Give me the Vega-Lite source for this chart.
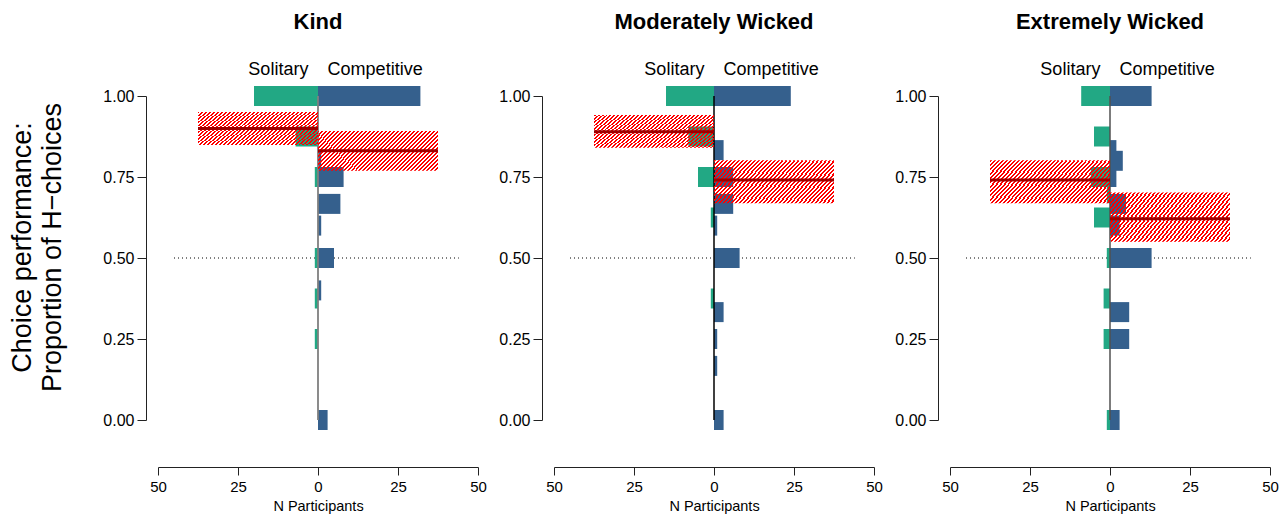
{
  "$schema": "https://vega.github.io/schema/vega-lite/v6.json",
  "autosize": {"type": "none"},
  "padding": {"left": 158, "top": 96, "right": 1123, "bottom": 420},
  "background": "white",
  "spacing": 76,
  "bounds": "flush",
  "datasets": {
    "bars": [
      {"panel": "Kind", "group": "Solitary", "p": 1, "n": -20},
      {"panel": "Kind", "group": "Solitary", "p": 0.875, "n": -7},
      {"panel": "Kind", "group": "Solitary", "p": 0.75, "n": -1},
      {"panel": "Kind", "group": "Solitary", "p": 0.5, "n": -1},
      {"panel": "Kind", "group": "Solitary", "p": 0.375, "n": -1},
      {"panel": "Kind", "group": "Solitary", "p": 0.25, "n": -1},
      {"panel": "Kind", "group": "Competitive", "p": 1, "n": 32},
      {"panel": "Kind", "group": "Competitive", "p": 0.8, "n": 1},
      {"panel": "Kind", "group": "Competitive", "p": 0.75, "n": 8},
      {"panel": "Kind", "group": "Competitive", "p": 0.667, "n": 7},
      {"panel": "Kind", "group": "Competitive", "p": 0.6, "n": 1},
      {"panel": "Kind", "group": "Competitive", "p": 0.5, "n": 5},
      {"panel": "Kind", "group": "Competitive", "p": 0.4, "n": 1},
      {"panel": "Kind", "group": "Competitive", "p": 0, "n": 3},
      {"panel": "Moderately Wicked", "group": "Solitary", "p": 1, "n": -15},
      {"panel": "Moderately Wicked", "group": "Solitary", "p": 0.875, "n": -8},
      {"panel": "Moderately Wicked", "group": "Solitary", "p": 0.75, "n": -5},
      {"panel": "Moderately Wicked", "group": "Solitary", "p": 0.625, "n": -1},
      {"panel": "Moderately Wicked", "group": "Solitary", "p": 0.375, "n": -1},
      {"panel": "Moderately Wicked", "group": "Competitive", "p": 1, "n": 24},
      {"panel": "Moderately Wicked", "group": "Competitive", "p": 0.833, "n": 3},
      {"panel": "Moderately Wicked", "group": "Competitive", "p": 0.75, "n": 6},
      {"panel": "Moderately Wicked", "group": "Competitive", "p": 0.667, "n": 6},
      {"panel": "Moderately Wicked", "group": "Competitive", "p": 0.6, "n": 1},
      {"panel": "Moderately Wicked", "group": "Competitive", "p": 0.5, "n": 8},
      {"panel": "Moderately Wicked", "group": "Competitive", "p": 0.333, "n": 3},
      {"panel": "Moderately Wicked", "group": "Competitive", "p": 0.25, "n": 1},
      {"panel": "Moderately Wicked", "group": "Competitive", "p": 0.167, "n": 1},
      {"panel": "Moderately Wicked", "group": "Competitive", "p": 0, "n": 3},
      {"panel": "Extremely Wicked", "group": "Solitary", "p": 0.7, "n": -1},
      {"panel": "Extremely Wicked", "group": "Solitary", "p": 1, "n": -9},
      {"panel": "Extremely Wicked", "group": "Solitary", "p": 0.875, "n": -5},
      {"panel": "Extremely Wicked", "group": "Solitary", "p": 0.75, "n": -6},
      {"panel": "Extremely Wicked", "group": "Solitary", "p": 0.625, "n": -5},
      {"panel": "Extremely Wicked", "group": "Solitary", "p": 0.5, "n": -1},
      {"panel": "Extremely Wicked", "group": "Solitary", "p": 0.375, "n": -2},
      {"panel": "Extremely Wicked", "group": "Solitary", "p": 0.25, "n": -2},
      {"panel": "Extremely Wicked", "group": "Solitary", "p": 0, "n": -1},
      {"panel": "Extremely Wicked", "group": "Competitive", "p": 1, "n": 13},
      {"panel": "Extremely Wicked", "group": "Competitive", "p": 0.833, "n": 2},
      {"panel": "Extremely Wicked", "group": "Competitive", "p": 0.8, "n": 4},
      {"panel": "Extremely Wicked", "group": "Competitive", "p": 0.75, "n": 2},
      {"panel": "Extremely Wicked", "group": "Competitive", "p": 0.667, "n": 5},
      {"panel": "Extremely Wicked", "group": "Competitive", "p": 0.6, "n": 3},
      {"panel": "Extremely Wicked", "group": "Competitive", "p": 0.5, "n": 13},
      {"panel": "Extremely Wicked", "group": "Competitive", "p": 0.333, "n": 6},
      {"panel": "Extremely Wicked", "group": "Competitive", "p": 0.25, "n": 6},
      {"panel": "Extremely Wicked", "group": "Competitive", "p": 0, "n": 3}
    ],
    "ci": [
      {"panel": "Kind", "group": "Solitary", "x0": 0, "x1": -37.5, "lo": 0.849, "hi": 0.951, "mean": 0.9},
      {"panel": "Kind", "group": "Competitive", "x0": 0, "x1": 37.5, "lo": 0.769, "hi": 0.892, "mean": 0.831},
      {"panel": "Moderately Wicked", "group": "Solitary", "x0": 0, "x1": -37.5, "lo": 0.84, "hi": 0.941, "mean": 0.89},
      {"panel": "Moderately Wicked", "group": "Competitive", "x0": 0, "x1": 37.5, "lo": 0.669, "hi": 0.802, "mean": 0.741},
      {"panel": "Extremely Wicked", "group": "Solitary", "x0": 0, "x1": -37.5, "lo": 0.669, "hi": 0.802, "mean": 0.741},
      {"panel": "Extremely Wicked", "group": "Competitive", "x0": 0, "x1": 37.5, "lo": 0.55, "hi": 0.702, "mean": 0.621}
    ]
  },
  "hconcat": [
    {
      "title": "Kind",
      "width": 320,
      "height": 324,
      "layer": [
        {"data": {"values": [{}]}, "mark": {"type": "rule", "strokeDash": [1, 3], "color": "#000", "strokeWidth": 1},
         "encoding": {"x": {"datum": -45, "type": "quantitative", "scale": {"domain": [-50, 50], "padding": 0}}, "x2": {"datum": 44},
                      "y": {"datum": 0.5, "type": "quantitative", "scale": {"domain": [0, 1], "padding": 0}}}},
        {"data": {"name": "bars"}, "transform": [{"filter": "datum.panel === 'Kind'"}],
         "mark": {"type": "bar", "orient": "horizontal", "height": 20},
         "encoding": {
           "x": {"field": "n", "type": "quantitative", "stack": null, "scale": {"domain": [-50, 50], "padding": 0}, "axis": {"values": [-50, -25, 0, 25, 50], "labelExpr": "format(abs(datum.value), 'd')", "title": "N Participants"}},
           "y": {"field": "p", "type": "quantitative", "scale": {"domain": [0, 1], "padding": 0}, "axis": {"values": [0, 0.25, 0.5, 0.75, 1], "format": ".2f", "title": ["Choice performance:", "Proportion of H−choices"], "titleY": 151}},
           "color": {"field": "group", "type": "nominal", "scale": {"domain": ["Solitary", "Competitive"], "range": ["#22A884", "#35608D"]}, "legend": null}
         }},
        {"data": {"values": [{}]}, "mark": {"type": "rule", "color": "#7f7f7f", "strokeWidth": 1.8},
         "encoding": {"x": {"datum": 0, "type": "quantitative", "scale": {"domain": [-50, 50], "padding": 0}},
                      "y": {"datum": 0, "type": "quantitative", "scale": {"domain": [0, 1], "padding": 0}}, "y2": {"datum": 1}}},
        {"data": {"name": "ci"}, "transform": [{"filter": "datum.panel === 'Kind'"}],
         "mark": {"type": "rect"},
         "encoding": {"x": {"field": "x0", "type": "quantitative", "scale": {"domain": [-50, 50], "padding": 0}}, "x2": {"field": "x1"},
                      "y": {"field": "lo", "type": "quantitative", "scale": {"domain": [0, 1], "padding": 0}}, "y2": {"field": "hi"}}},
        {"data": {"name": "ci"}, "transform": [{"filter": "datum.panel === 'Kind'"}],
         "mark": {"type": "rule", "color": "#9e0000", "strokeWidth": 3},
         "encoding": {"x": {"field": "x0", "type": "quantitative", "scale": {"domain": [-50, 50], "padding": 0}}, "x2": {"field": "x1"},
                      "y": {"field": "mean", "type": "quantitative", "scale": {"domain": [0, 1], "padding": 0}}}},
        {"data": {"values": [{}]}, "mark": {"type": "text", "text": "Solitary", "align": "right", "baseline": "alphabetic", "fontSize": 18},
         "encoding": {"x": {"datum": -3, "type": "quantitative", "scale": {"domain": [-50, 50], "padding": 0}},
                      "y": {"datum": 1.065, "type": "quantitative", "scale": {"domain": [0, 1], "padding": 0}}}},
        {"data": {"values": [{}]}, "mark": {"type": "text", "text": "Competitive", "align": "left", "baseline": "alphabetic", "fontSize": 18},
         "encoding": {"x": {"datum": 3, "type": "quantitative", "scale": {"domain": [-50, 50], "padding": 0}},
                      "y": {"datum": 1.065, "type": "quantitative", "scale": {"domain": [0, 1], "padding": 0}}}}
      ]
    },
    {
      "title": "Moderately Wicked",
      "width": 320,
      "height": 324,
      "layer": [
        {"data": {"values": [{}]}, "mark": {"type": "rule", "strokeDash": [1, 3], "color": "#000", "strokeWidth": 1},
         "encoding": {"x": {"datum": -45, "type": "quantitative", "scale": {"domain": [-50, 50], "padding": 0}}, "x2": {"datum": 44},
                      "y": {"datum": 0.5, "type": "quantitative", "scale": {"domain": [0, 1], "padding": 0}}}},
        {"data": {"name": "bars"}, "transform": [{"filter": "datum.panel === 'Moderately Wicked'"}],
         "mark": {"type": "bar", "orient": "horizontal", "height": 20},
         "encoding": {
           "x": {"field": "n", "type": "quantitative", "stack": null, "scale": {"domain": [-50, 50], "padding": 0}, "axis": {"values": [-50, -25, 0, 25, 50], "labelExpr": "format(abs(datum.value), 'd')", "title": "N Participants"}},
           "y": {"field": "p", "type": "quantitative", "scale": {"domain": [0, 1], "padding": 0}, "axis": {"values": [0, 0.25, 0.5, 0.75, 1], "format": ".2f", "title": null}},
           "color": {"field": "group", "type": "nominal", "scale": {"domain": ["Solitary", "Competitive"], "range": ["#22A884", "#35608D"]}, "legend": null}
         }},
        {"data": {"values": [{}]}, "mark": {"type": "rule", "color": "#000000", "strokeWidth": 1.5},
         "encoding": {"x": {"datum": 0, "type": "quantitative", "scale": {"domain": [-50, 50], "padding": 0}},
                      "y": {"datum": 0, "type": "quantitative", "scale": {"domain": [0, 1], "padding": 0}}, "y2": {"datum": 1}}},
        {"data": {"name": "ci"}, "transform": [{"filter": "datum.panel === 'Moderately Wicked'"}],
         "mark": {"type": "rect"},
         "encoding": {"x": {"field": "x0", "type": "quantitative", "scale": {"domain": [-50, 50], "padding": 0}}, "x2": {"field": "x1"},
                      "y": {"field": "lo", "type": "quantitative", "scale": {"domain": [0, 1], "padding": 0}}, "y2": {"field": "hi"}}},
        {"data": {"name": "ci"}, "transform": [{"filter": "datum.panel === 'Moderately Wicked'"}],
         "mark": {"type": "rule", "color": "#9e0000", "strokeWidth": 3},
         "encoding": {"x": {"field": "x0", "type": "quantitative", "scale": {"domain": [-50, 50], "padding": 0}}, "x2": {"field": "x1"},
                      "y": {"field": "mean", "type": "quantitative", "scale": {"domain": [0, 1], "padding": 0}}}},
        {"data": {"values": [{}]}, "mark": {"type": "text", "text": "Solitary", "align": "right", "baseline": "alphabetic", "fontSize": 18},
         "encoding": {"x": {"datum": -3, "type": "quantitative", "scale": {"domain": [-50, 50], "padding": 0}},
                      "y": {"datum": 1.065, "type": "quantitative", "scale": {"domain": [0, 1], "padding": 0}}}},
        {"data": {"values": [{}]}, "mark": {"type": "text", "text": "Competitive", "align": "left", "baseline": "alphabetic", "fontSize": 18},
         "encoding": {"x": {"datum": 3, "type": "quantitative", "scale": {"domain": [-50, 50], "padding": 0}},
                      "y": {"datum": 1.065, "type": "quantitative", "scale": {"domain": [0, 1], "padding": 0}}}}
      ]
    },
    {
      "title": "Extremely Wicked",
      "width": 320,
      "height": 324,
      "layer": [
        {"data": {"values": [{}]}, "mark": {"type": "rule", "strokeDash": [1, 3], "color": "#000", "strokeWidth": 1},
         "encoding": {"x": {"datum": -45, "type": "quantitative", "scale": {"domain": [-50, 50], "padding": 0}}, "x2": {"datum": 44},
                      "y": {"datum": 0.5, "type": "quantitative", "scale": {"domain": [0, 1], "padding": 0}}}},
        {"data": {"name": "bars"}, "transform": [{"filter": "datum.panel === 'Extremely Wicked'"}],
         "mark": {"type": "bar", "orient": "horizontal", "height": 20},
         "encoding": {
           "x": {"field": "n", "type": "quantitative", "stack": null, "scale": {"domain": [-50, 50], "padding": 0}, "axis": {"values": [-50, -25, 0, 25, 50], "labelExpr": "format(abs(datum.value), 'd')", "title": "N Participants"}},
           "y": {"field": "p", "type": "quantitative", "scale": {"domain": [0, 1], "padding": 0}, "axis": {"values": [0, 0.25, 0.5, 0.75, 1], "format": ".2f", "title": null}},
           "color": {"field": "group", "type": "nominal", "scale": {"domain": ["Solitary", "Competitive"], "range": ["#22A884", "#35608D"]}, "legend": null}
         }},
        {"data": {"values": [{}]}, "mark": {"type": "rule", "color": "#505050", "strokeWidth": 1.5},
         "encoding": {"x": {"datum": 0, "type": "quantitative", "scale": {"domain": [-50, 50], "padding": 0}},
                      "y": {"datum": 0, "type": "quantitative", "scale": {"domain": [0, 1], "padding": 0}}, "y2": {"datum": 1}}},
        {"data": {"name": "ci"}, "transform": [{"filter": "datum.panel === 'Extremely Wicked'"}],
         "mark": {"type": "rect"},
         "encoding": {"x": {"field": "x0", "type": "quantitative", "scale": {"domain": [-50, 50], "padding": 0}}, "x2": {"field": "x1"},
                      "y": {"field": "lo", "type": "quantitative", "scale": {"domain": [0, 1], "padding": 0}}, "y2": {"field": "hi"}}},
        {"data": {"name": "ci"}, "transform": [{"filter": "datum.panel === 'Extremely Wicked'"}],
         "mark": {"type": "rule", "color": "#9e0000", "strokeWidth": 3},
         "encoding": {"x": {"field": "x0", "type": "quantitative", "scale": {"domain": [-50, 50], "padding": 0}}, "x2": {"field": "x1"},
                      "y": {"field": "mean", "type": "quantitative", "scale": {"domain": [0, 1], "padding": 0}}}},
        {"data": {"values": [{}]}, "mark": {"type": "text", "text": "Solitary", "align": "right", "baseline": "alphabetic", "fontSize": 18},
         "encoding": {"x": {"datum": -3, "type": "quantitative", "scale": {"domain": [-50, 50], "padding": 0}},
                      "y": {"datum": 1.065, "type": "quantitative", "scale": {"domain": [0, 1], "padding": 0}}}},
        {"data": {"values": [{}]}, "mark": {"type": "text", "text": "Competitive", "align": "left", "baseline": "alphabetic", "fontSize": 18},
         "encoding": {"x": {"datum": 3, "type": "quantitative", "scale": {"domain": [-50, 50], "padding": 0}},
                      "y": {"datum": 1.065, "type": "quantitative", "scale": {"domain": [0, 1], "padding": 0}}}}
      ]
    }
  ],
  "config": {
    "font": "Liberation Sans",
    "view": {"stroke": null},
    "text": {"color": "#000", "font": "Liberation Sans"},
    "title": {"fontSize": 22, "fontWeight": "bold", "font": "Liberation Sans", "color": "#000", "anchor": "middle", "frame": "group", "baseline": "bottom", "offset": 27},
    "axis": {"grid": false, "domainColor": "#222", "tickColor": "#222", "labelColor": "#000", "titleColor": "#000", "labelFont": "Liberation Sans", "titleFont": "Liberation Sans", "titleFontWeight": "normal", "domainWidth": 1, "tickWidth": 1},
    "axisX": {"offset": 47, "tickSize": 8, "labelFontSize": 15, "labelPadding": 4, "titleFontSize": 14.5, "titlePadding": 5, "labelFlush": false, "labelOverlap": false},
    "axisY": {"offset": 12, "tickSize": 9, "labelFontSize": 16, "labelPadding": 3, "titleFontSize": 27, "titlePadding": 36, "titleLineHeight": 30, "labelOverlap": false},
    "rect": {
      "stroke": null,
      "fill": {
        "gradient": "linear", "x1": 0, "y1": 0, "x2": 1.199, "y2": 0.396,
        "stops": [
          {"offset": 0, "color": "#ff0000"}, {"offset": 0.0125, "color": "#ff0000"}, {"offset": 0.0125, "color": "rgba(255,0,0,0)"}, {"offset": 0.025, "color": "rgba(255,0,0,0)"},
          {"offset": 0.025, "color": "#ff0000"}, {"offset": 0.0375, "color": "#ff0000"}, {"offset": 0.0375, "color": "rgba(255,0,0,0)"}, {"offset": 0.05, "color": "rgba(255,0,0,0)"},
          {"offset": 0.05, "color": "#ff0000"}, {"offset": 0.0625, "color": "#ff0000"}, {"offset": 0.0625, "color": "rgba(255,0,0,0)"}, {"offset": 0.075, "color": "rgba(255,0,0,0)"},
          {"offset": 0.075, "color": "#ff0000"}, {"offset": 0.0875, "color": "#ff0000"}, {"offset": 0.0875, "color": "rgba(255,0,0,0)"}, {"offset": 0.1, "color": "rgba(255,0,0,0)"},
          {"offset": 0.1, "color": "#ff0000"}, {"offset": 0.1125, "color": "#ff0000"}, {"offset": 0.1125, "color": "rgba(255,0,0,0)"}, {"offset": 0.125, "color": "rgba(255,0,0,0)"},
          {"offset": 0.125, "color": "#ff0000"}, {"offset": 0.1375, "color": "#ff0000"}, {"offset": 0.1375, "color": "rgba(255,0,0,0)"}, {"offset": 0.15, "color": "rgba(255,0,0,0)"},
          {"offset": 0.15, "color": "#ff0000"}, {"offset": 0.1625, "color": "#ff0000"}, {"offset": 0.1625, "color": "rgba(255,0,0,0)"}, {"offset": 0.175, "color": "rgba(255,0,0,0)"},
          {"offset": 0.175, "color": "#ff0000"}, {"offset": 0.1875, "color": "#ff0000"}, {"offset": 0.1875, "color": "rgba(255,0,0,0)"}, {"offset": 0.2, "color": "rgba(255,0,0,0)"},
          {"offset": 0.2, "color": "#ff0000"}, {"offset": 0.2125, "color": "#ff0000"}, {"offset": 0.2125, "color": "rgba(255,0,0,0)"}, {"offset": 0.225, "color": "rgba(255,0,0,0)"},
          {"offset": 0.225, "color": "#ff0000"}, {"offset": 0.2375, "color": "#ff0000"}, {"offset": 0.2375, "color": "rgba(255,0,0,0)"}, {"offset": 0.25, "color": "rgba(255,0,0,0)"},
          {"offset": 0.25, "color": "#ff0000"}, {"offset": 0.2625, "color": "#ff0000"}, {"offset": 0.2625, "color": "rgba(255,0,0,0)"}, {"offset": 0.275, "color": "rgba(255,0,0,0)"},
          {"offset": 0.275, "color": "#ff0000"}, {"offset": 0.2875, "color": "#ff0000"}, {"offset": 0.2875, "color": "rgba(255,0,0,0)"}, {"offset": 0.3, "color": "rgba(255,0,0,0)"},
          {"offset": 0.3, "color": "#ff0000"}, {"offset": 0.3125, "color": "#ff0000"}, {"offset": 0.3125, "color": "rgba(255,0,0,0)"}, {"offset": 0.325, "color": "rgba(255,0,0,0)"},
          {"offset": 0.325, "color": "#ff0000"}, {"offset": 0.3375, "color": "#ff0000"}, {"offset": 0.3375, "color": "rgba(255,0,0,0)"}, {"offset": 0.35, "color": "rgba(255,0,0,0)"},
          {"offset": 0.35, "color": "#ff0000"}, {"offset": 0.3625, "color": "#ff0000"}, {"offset": 0.3625, "color": "rgba(255,0,0,0)"}, {"offset": 0.375, "color": "rgba(255,0,0,0)"},
          {"offset": 0.375, "color": "#ff0000"}, {"offset": 0.3875, "color": "#ff0000"}, {"offset": 0.3875, "color": "rgba(255,0,0,0)"}, {"offset": 0.4, "color": "rgba(255,0,0,0)"},
          {"offset": 0.4, "color": "#ff0000"}, {"offset": 0.4125, "color": "#ff0000"}, {"offset": 0.4125, "color": "rgba(255,0,0,0)"}, {"offset": 0.425, "color": "rgba(255,0,0,0)"},
          {"offset": 0.425, "color": "#ff0000"}, {"offset": 0.4375, "color": "#ff0000"}, {"offset": 0.4375, "color": "rgba(255,0,0,0)"}, {"offset": 0.45, "color": "rgba(255,0,0,0)"},
          {"offset": 0.45, "color": "#ff0000"}, {"offset": 0.4625, "color": "#ff0000"}, {"offset": 0.4625, "color": "rgba(255,0,0,0)"}, {"offset": 0.475, "color": "rgba(255,0,0,0)"},
          {"offset": 0.475, "color": "#ff0000"}, {"offset": 0.4875, "color": "#ff0000"}, {"offset": 0.4875, "color": "rgba(255,0,0,0)"}, {"offset": 0.5, "color": "rgba(255,0,0,0)"},
          {"offset": 0.5, "color": "#ff0000"}, {"offset": 0.5125, "color": "#ff0000"}, {"offset": 0.5125, "color": "rgba(255,0,0,0)"}, {"offset": 0.525, "color": "rgba(255,0,0,0)"},
          {"offset": 0.525, "color": "#ff0000"}, {"offset": 0.5375, "color": "#ff0000"}, {"offset": 0.5375, "color": "rgba(255,0,0,0)"}, {"offset": 0.55, "color": "rgba(255,0,0,0)"},
          {"offset": 0.55, "color": "#ff0000"}, {"offset": 0.5625, "color": "#ff0000"}, {"offset": 0.5625, "color": "rgba(255,0,0,0)"}, {"offset": 0.575, "color": "rgba(255,0,0,0)"},
          {"offset": 0.575, "color": "#ff0000"}, {"offset": 0.5875, "color": "#ff0000"}, {"offset": 0.5875, "color": "rgba(255,0,0,0)"}, {"offset": 0.6, "color": "rgba(255,0,0,0)"},
          {"offset": 0.6, "color": "#ff0000"}, {"offset": 0.6125, "color": "#ff0000"}, {"offset": 0.6125, "color": "rgba(255,0,0,0)"}, {"offset": 0.625, "color": "rgba(255,0,0,0)"},
          {"offset": 0.625, "color": "#ff0000"}, {"offset": 0.6375, "color": "#ff0000"}, {"offset": 0.6375, "color": "rgba(255,0,0,0)"}, {"offset": 0.65, "color": "rgba(255,0,0,0)"},
          {"offset": 0.65, "color": "#ff0000"}, {"offset": 0.6625, "color": "#ff0000"}, {"offset": 0.6625, "color": "rgba(255,0,0,0)"}, {"offset": 0.675, "color": "rgba(255,0,0,0)"},
          {"offset": 0.675, "color": "#ff0000"}, {"offset": 0.6875, "color": "#ff0000"}, {"offset": 0.6875, "color": "rgba(255,0,0,0)"}, {"offset": 0.7, "color": "rgba(255,0,0,0)"},
          {"offset": 0.7, "color": "#ff0000"}, {"offset": 0.7125, "color": "#ff0000"}, {"offset": 0.7125, "color": "rgba(255,0,0,0)"}, {"offset": 0.725, "color": "rgba(255,0,0,0)"},
          {"offset": 0.725, "color": "#ff0000"}, {"offset": 0.7375, "color": "#ff0000"}, {"offset": 0.7375, "color": "rgba(255,0,0,0)"}, {"offset": 0.75, "color": "rgba(255,0,0,0)"},
          {"offset": 0.75, "color": "#ff0000"}, {"offset": 0.7625, "color": "#ff0000"}, {"offset": 0.7625, "color": "rgba(255,0,0,0)"}, {"offset": 0.775, "color": "rgba(255,0,0,0)"},
          {"offset": 0.775, "color": "#ff0000"}, {"offset": 0.7875, "color": "#ff0000"}, {"offset": 0.7875, "color": "rgba(255,0,0,0)"}, {"offset": 0.8, "color": "rgba(255,0,0,0)"},
          {"offset": 0.8, "color": "#ff0000"}, {"offset": 0.8125, "color": "#ff0000"}, {"offset": 0.8125, "color": "rgba(255,0,0,0)"}, {"offset": 0.825, "color": "rgba(255,0,0,0)"},
          {"offset": 0.825, "color": "#ff0000"}, {"offset": 0.8375, "color": "#ff0000"}, {"offset": 0.8375, "color": "rgba(255,0,0,0)"}, {"offset": 0.85, "color": "rgba(255,0,0,0)"},
          {"offset": 0.85, "color": "#ff0000"}, {"offset": 0.8625, "color": "#ff0000"}, {"offset": 0.8625, "color": "rgba(255,0,0,0)"}, {"offset": 0.875, "color": "rgba(255,0,0,0)"},
          {"offset": 0.875, "color": "#ff0000"}, {"offset": 0.8875, "color": "#ff0000"}, {"offset": 0.8875, "color": "rgba(255,0,0,0)"}, {"offset": 0.9, "color": "rgba(255,0,0,0)"},
          {"offset": 0.9, "color": "#ff0000"}, {"offset": 0.9125, "color": "#ff0000"}, {"offset": 0.9125, "color": "rgba(255,0,0,0)"}, {"offset": 0.925, "color": "rgba(255,0,0,0)"},
          {"offset": 0.925, "color": "#ff0000"}, {"offset": 0.9375, "color": "#ff0000"}, {"offset": 0.9375, "color": "rgba(255,0,0,0)"}, {"offset": 0.95, "color": "rgba(255,0,0,0)"},
          {"offset": 0.95, "color": "#ff0000"}, {"offset": 0.9625, "color": "#ff0000"}, {"offset": 0.9625, "color": "rgba(255,0,0,0)"}, {"offset": 0.975, "color": "rgba(255,0,0,0)"},
          {"offset": 0.975, "color": "#ff0000"}, {"offset": 0.9875, "color": "#ff0000"}, {"offset": 0.9875, "color": "rgba(255,0,0,0)"}, {"offset": 1, "color": "rgba(255,0,0,0)"}
        ]
      }
    }
  }
}
